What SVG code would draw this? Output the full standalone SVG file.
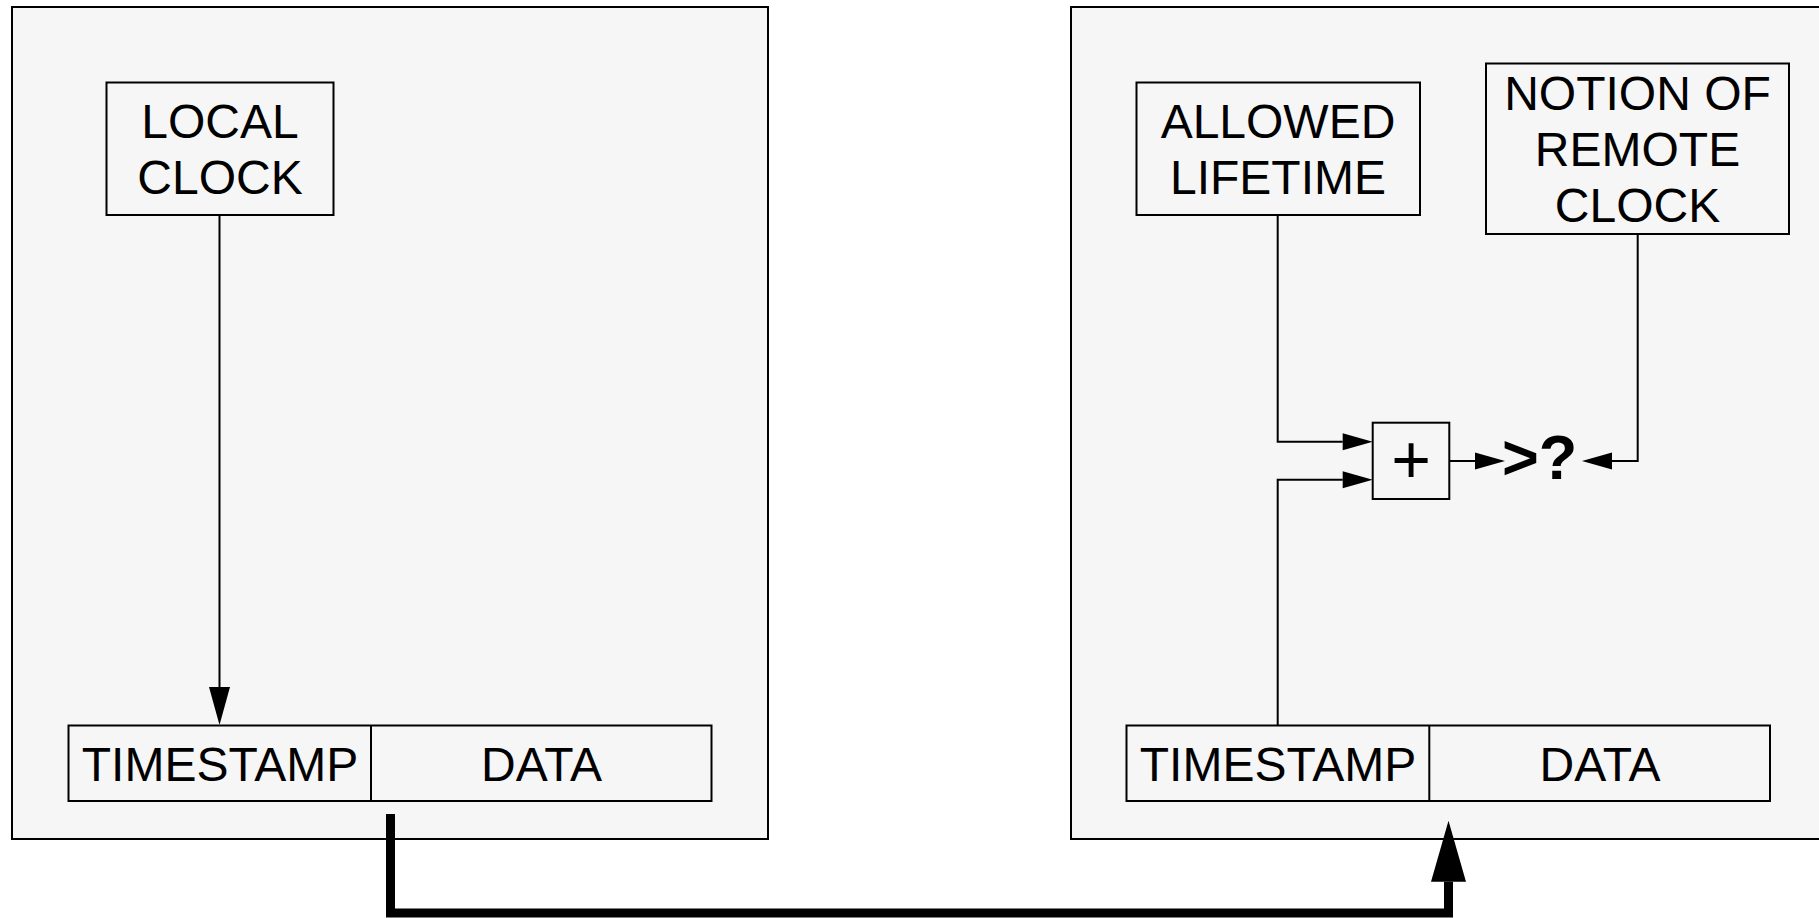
<svg xmlns="http://www.w3.org/2000/svg" width="1819" height="918" viewBox="0 0 1819 918">
<style>
.panel{fill:#f6f6f6;stroke:#000;stroke-width:2}
.box{fill:none;stroke:#000;stroke-width:2}
.t{font-family:"Liberation Sans",Arial,sans-serif;font-size:48px;fill:#000;text-anchor:middle}
.b{font-family:"Liberation Sans",Arial,sans-serif;font-weight:bold;fill:#000}
.ln{fill:none;stroke:#000;stroke-width:2}
.thick{fill:none;stroke:#000;stroke-width:9}
</style>
<defs>
<marker id="a30" markerUnits="userSpaceOnUse" markerWidth="30" markerHeight="17" refX="0" refY="8.5" orient="auto" overflow="visible"><path d="M0,0 L30,8.5 L0,17 z" fill="#000"/></marker>
<marker id="a38" markerUnits="userSpaceOnUse" markerWidth="38" markerHeight="21" refX="0" refY="10.5" orient="auto" overflow="visible"><path d="M0,0 L38,10.5 L0,21 z" fill="#000"/></marker>
<marker id="a61" markerUnits="userSpaceOnUse" markerWidth="61" markerHeight="35" refX="0" refY="17.5" orient="auto" overflow="visible"><path d="M0,0 L61,17.5 L0,35 z" fill="#000"/></marker>
</defs>
<rect width="1819" height="918" fill="#fff"/>
<g id="sender">
<rect class="panel" x="12" y="7" width="756" height="832"/>
</g>
<g id="receiver">
<rect class="panel" x="1071" y="7" width="770" height="832"/>
</g>
<g id="local-clock">
<rect class="box" x="106.5" y="82.5" width="227" height="132.5"/>
<text class="t" x="220" y="138">LOCAL</text>
<text class="t" x="220" y="194">CLOCK</text>
</g>
<g id="packet-left">
<rect class="box" x="68.5" y="725.5" width="643" height="75.5"/>
<line class="ln" x1="371" y1="725.5" x2="371" y2="801"/>
<text class="t" x="220" y="781">TIMESTAMP</text>
<text class="t" x="541.5" y="781">DATA</text>
</g>
<g id="allowed-lifetime">
<rect class="box" x="1136.5" y="82.5" width="283.5" height="132.5"/>
<text class="t" x="1278" y="138">ALLOWED</text>
<text class="t" x="1278" y="194">LIFETIME</text>
</g>
<g id="remote-clock">
<rect class="box" x="1486" y="63.5" width="303" height="170.5"/>
<text class="t" x="1637.5" y="110">NOTION OF</text>
<text class="t" x="1637.5" y="166">REMOTE</text>
<text class="t" x="1637.5" y="221.5">CLOCK</text>
</g>
<g id="adder">
<rect class="box" x="1372.7" y="422.7" width="76.6" height="76.3"/>
<text x="1411" y="483" font-family="Liberation Sans, Arial, sans-serif" font-size="68" text-anchor="middle" fill="#000">+</text>
</g>
<g id="compare">
<text class="b" x="1502" y="479" font-size="63">&gt;?</text>
</g>
<g id="packet-right">
<rect class="box" x="1126.5" y="725.5" width="643.5" height="75.5"/>
<line class="ln" x1="1429.3" y1="725.5" x2="1429.3" y2="801"/>
<text class="t" x="1278" y="781">TIMESTAMP</text>
<text class="t" x="1600" y="781">DATA</text>
</g>
<g id="connectors">
<path class="ln" d="M219.5,215 V687" marker-end="url(#a38)"/>
<path class="ln" d="M1277.7,215 V441.7 H1342.7" marker-end="url(#a30)"/>
<path class="ln" d="M1277.7,725.5 V479.7 H1342.7" marker-end="url(#a30)"/>
<path class="ln" d="M1449.3,461 H1475" marker-end="url(#a30)"/>
<path class="ln" d="M1637.7,234 V461 H1612" marker-end="url(#a30)"/>
<path class="thick" d="M390.5,814 V913 H1448.5 V881.7" marker-end="url(#a61)"/>
</g>
</svg>
